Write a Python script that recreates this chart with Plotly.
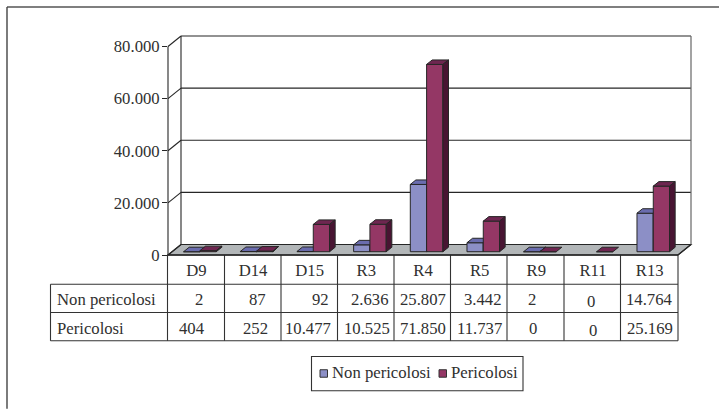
import plotly.graph_objects as go

categories = ["D9", "D14", "D15", "R3", "R4", "R5", "R9", "R11", "R13"]
non_pericolosi = [2, 87, 92, 2636, 25807, 3442, 2, 0, 14764]
pericolosi = [404, 252, 10477, 10525, 71850, 11737, 0, 0, 25169]
non_labels = ["2", "87", "92", "2.636", "25.807", "3.442", "2", "0", "14.764"]
per_labels = ["404", "252", "10.477", "10.525", "71.850", "11.737", "0", "0", "25.169"]
y_ticks = [0, 20000, 40000, 60000, 80000]
y_labels = ["0", "20.000", "40.000", "60.000", "80.000"]

W, H = 719, 409
L, R, T, B = 168, 691, 35.5, 255
CAT_PX = (678 - 168) / 9
Y_PX = 209 / 80000
DX = 13 / CAT_PX          # depth of the floor, in axis units
DY = 10.5 / Y_PX
XR = [-0.5, 8.5 + DX]
YR = [0, 80000 + DY]
BAR_W = 16.3 / CAT_PX
BDX, BDY = 5.6 / CAT_PX, 4.5 / Y_PX      # depth of one bar
OX, OY = 3.6 / CAT_PX, 3.3 / Y_PX        # bars stand mid-floor

INK = "#262626"
TXT = "#303030"
FONT = "Liberation Serif"
FS = 16.7
BLUE = ("#8c8fc6", "#6a6cae", "#4f5190")
PURP = ("#943765", "#6e2650", "#481432")


def px(x):
    return (x - L) / (R - L)


def py(y):
    return (B - y) / (B - T)


def dx(x):
    return (x - XR[0]) / (XR[1] - XR[0])


def dy(y):
    return (y - YR[0]) / (YR[1] - YR[0])


def line(x0, y0, x1, y1, color=INK, width=1.1, layer="below"):
    return dict(type="line", xref="paper", yref="paper", x0=x0, y0=y0, x1=x1, y1=y1,
                line=dict(color=color, width=width), layer=layer)


def faces(values, center_shift, colors, draw_zero, xa, ya):
    xs = [i + OX + center_shift for i in range(len(values))]
    edge = [1 if (v > 0 or draw_zero) else 0 for v in values]
    out = [go.Bar(x=xs, y=values, base=[OY] * len(values), width=BAR_W, name="",
                  marker=dict(color=colors[0], line=dict(color=INK, width=edge)),
                  xaxis=xa, yaxis=ya, showlegend=False)]
    tx, ty, sx, sy = [], [], [], []
    for x, v in zip(xs, values):
        if v == 0 and not draw_zero:
            continue
        l, r, t = x - BAR_W / 2, x + BAR_W / 2, v + OY
        tx += [l, r, r + BDX, l + BDX, l, None]
        ty += [t, t, t + BDY, t + BDY, t, None]
        if v > 0:
            sx += [r, r + BDX, r + BDX, r, r, None]
            sy += [OY, OY + BDY, t + BDY, t, OY, None]
    for fx, fy, c in ((tx, ty, colors[1]), (sx, sy, colors[2])):
        out.append(go.Scatter(x=fx, y=fy, mode="lines", fill="toself", fillcolor=c,
                              line=dict(color=INK, width=1), xaxis=xa, yaxis=ya,
                              showlegend=False, hoverinfo="skip", cliponaxis=False))
    return out


fig = go.Figure()
for tr in faces(non_pericolosi, -BAR_W / 2, BLUE, False, "x", "y"):
    fig.add_trace(tr)
for tr in faces(pericolosi, BAR_W / 2, PURP, True, "x2", "y2"):
    fig.add_trace(tr)

shapes = []
# frame
shapes += [line(px(7), py(6.5), px(W), py(6.5), "#555555", 1.4),
           line(px(7), py(6.5), px(7), py(H), "#444444", 1.4)]
# floor
shapes.append(dict(type="path", xref="paper", yref="paper", layer="below",
                   path=f"M{dx(-0.5)},{dy(0)} L{dx(-0.5 + DX)},{dy(DY)} L{dx(8.5 + DX)},{dy(DY)} L{dx(8.5)},{dy(0)} Z",
                   fillcolor="#b2b6b8", line=dict(color=INK, width=1.1)))
# walls and gridlines
for v in y_ticks[1:]:
    shapes.append(line(dx(-0.5 + DX), dy(v + DY), dx(8.5 + DX), dy(v + DY)))
for v in y_ticks:
    shapes.append(line(dx(-0.5), dy(v), dx(-0.5 + DX), dy(v + DY)))
shapes.append(line(dx(-0.5), dy(0), dx(-0.5), dy(80000)))
shapes.append(line(dx(-0.5 + DX), dy(DY), dx(-0.5 + DX), dy(80000 + DY)))
shapes.append(line(dx(8.5 + DX), dy(DY), dx(8.5 + DX), dy(80000 + DY), "#666666", 1.2))
shapes.append(line(dx(8.5), dy(0), dx(8.5 + DX), dy(DY), INK))
# table
col_x = [167.5, 224.5, 281, 337.5, 394, 450.5, 507, 564, 620.5, 678]
row_y = [255, 284.3, 312.7, 341]
for x in col_x:
    shapes.append(line(px(x), py(255), px(x), py(341), "#333333", 1.1))
shapes.append(line(px(50.5), py(284.3), px(50.5), py(341), "#333333", 1.1))
for y in row_y[1:]:
    shapes.append(line(px(50.5), py(y), px(678), py(y), "#333333", 1.1))
shapes.append(line(px(167.5), py(255), px(678), py(255), INK, 1.3))
# legend
shapes.append(dict(type="rect", xref="paper", yref="paper", x0=px(311.5), x1=px(523),
                   y0=py(391), y1=py(356.7), fillcolor="white",
                   line=dict(color="#333333", width=1.1)))
for x0, c in ((320, BLUE[0]), (439, PURP[0])):
    shapes.append(dict(type="rect", xref="paper", yref="paper", x0=px(x0), x1=px(x0 + 7.5),
                       y0=py(377.5), y1=py(370), fillcolor=c,
                       line=dict(color="#333333", width=1)))

ann = []


def text(s, x, y, anchor="left"):
    ann.append(dict(text=s, xref="paper", yref="paper", x=px(x), y=py(y), showarrow=False,
                    xanchor=anchor, yanchor="middle", borderpad=0, borderwidth=0,
                    font=dict(family=FONT, size=FS, color=TXT)))


text("Non pericolosi", 57, 299.5)
text("Pericolosi", 57, 328.5)
right_1 = [203, 266, 329, 388.5, 446, 502, 536, 595, 673]
right_2 = [205, 268, 331, 389.5, 446, 502, 537, 597, 673]
for s, x, n in zip(non_labels, right_1, categories):
    text(s, x, 302 if n == "R11" else 299.5, "right")
for s, x, n in zip(per_labels, right_2, categories):
    text(s, x, 330.5 if n == "R11" else 328.5, "right")
text("Non pericolosi", 331.5, 373)
text("Pericolosi", 450.5, 373)

common_x = dict(range=XR, fixedrange=True, showgrid=False, zeroline=False)
common_y = dict(range=YR, fixedrange=True, showgrid=False, zeroline=False)
fig.update_layout(
    width=W, height=H, autosize=False, paper_bgcolor="white", plot_bgcolor="white",
    margin=dict(l=L, r=W - R, t=T, b=H - B, pad=0),
    barmode="overlay", showlegend=False,
    font=dict(family=FONT, size=FS, color=TXT),
    xaxis=dict(tickmode="array", tickvals=list(range(9)), ticktext=categories,
               ticks="", showline=False, ticklabelstandoff=3, **common_x),
    yaxis=dict(tickmode="array", tickvals=y_ticks, ticktext=y_labels, ticks="outside",
               ticklen=5, tickcolor=INK, tickwidth=1.1, showline=False,
               ticklabelstandoff=-1, **common_y),
    xaxis2=dict(overlaying="x", visible=False, **common_x),
    yaxis2=dict(overlaying="y", visible=False, **common_y),
    shapes=shapes, annotations=ann,
)
fig.write_html("out.html", post_script="document.body.style.margin='0';",
               config=dict(displayModeBar=False))
